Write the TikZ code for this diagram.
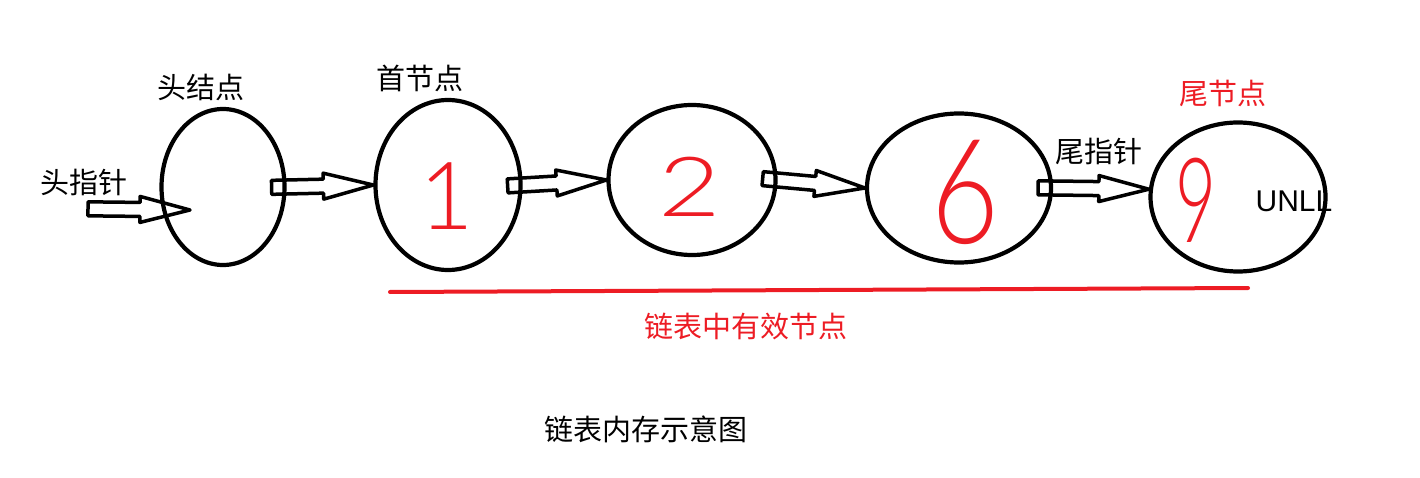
\documentclass[tikz,border=0pt]{standalone}
\usepackage{fontspec}
\setmainfont{Liberation Sans}
\newfontfamily\cjk{Noto Sans CJK SC}
\newfontfamily\hand{Lato Light}
\usetikzlibrary{calc}
\usetikzlibrary{shapes.geometric}
\definecolor{pred}{RGB}{237, 28, 36}
\tikzset{lnode/.style = {draw, ellipse, line width = 4.2pt, inner sep = 0}}
\tikzset{lbl/.style = {font = \cjk\fontsize{29}{34}\selectfont, inner sep = 0}}
\tikzset{num/.style = {pred, font = \hand\fontsize{#1}{#1}\selectfont, inner sep = 0}}
\tikzset{fat/.style = {draw, line width = 3.5pt, line join = round, to path = {
  ($(\tikztostart)!-15pt!(\tikztotarget)!7pt!90:(\tikztotarget)$)
  -- ($(\tikztotarget)!50pt!(\tikztostart)!7pt!-90:(\tikztostart)$)
  -- ($(\tikztotarget)!50pt!(\tikztostart)!13pt!-90:(\tikztostart)$)
  -- (\tikztotarget)
  -- ($(\tikztotarget)!50pt!(\tikztostart)!13pt!90:(\tikztostart)$)
  -- ($(\tikztotarget)!50pt!(\tikztostart)!7pt!90:(\tikztostart)$)
  -- ($(\tikztostart)!-15pt!(\tikztotarget)!7pt!-90:(\tikztotarget)$)
  -- cycle}}}

\begin{document}
\begin{tikzpicture}[x = 1pt, y = -1pt]
      \useasboundingbox (0, 0) rectangle (1420, 478);

      \node [lnode, minimum width = 123pt, minimum height = 156pt] (h) at (223, 187) {};
      \node [lnode, minimum width = 145pt, minimum height = 170pt] (n1) at (448, 185) {};
      \node [lnode, minimum width = 167pt, minimum height = 150pt] (n2) at (692, 180) {};
      \node [lnode, minimum width = 184pt, minimum height = 149pt] (n6) at (959, 188) {};
      \node [lnode, minimum width = 175pt, minimum height = 149pt] (n9) at (1238, 197) {};

      \node [num = 94] (d1) at (447, 196) {1};
      \node [num = 83, xscale = 1.3] (d2) at (690, 187) {2};
      \node [num = 146, xscale = 0.8] (d6) at (965, 192) {6};
      \node [num = 118, xscale = 0.6] (d9) at (1196, 200) {9};

      \node [lbl] (thp) at (84, 182) {头指针};
      \node [lbl] (thn) at (201, 87) {头结点};
      \node [lbl] (tfn) at (420, 78) {首节点};
      \node [lbl, pred] (ttn) at (1223, 93) {尾节点};
      \node [lbl] (ttp) at (1099, 151) {尾指针};
      \node [font = \fontsize{30}{34}\selectfont, inner sep = 0] (tnull) at (1294, 201) {UNLL};
      \node [lbl, pred] (tvalid) at (746, 326) {链表中有效节点};
      \node [lbl] (ttitle) at (646, 429) {链表内存示意图};

      \coordinate (hp) at (103, 209);
      \coordinate (htip) at ($(h.center) + (-33, 23)$);

      \draw [fat] (hp) to (htip);
      \draw [fat] (h.east) to (n1.west);
      \draw [fat] (n1.east) to (n2.west);
      \draw [fat] (n2.east) to (n6.west);
      \draw [fat] (n6.east) to (n9.175);

      \draw [pred, line width = 4pt, line cap = round] (390, 292) -- (1248, 288);
    \end{tikzpicture}
\end{document}
